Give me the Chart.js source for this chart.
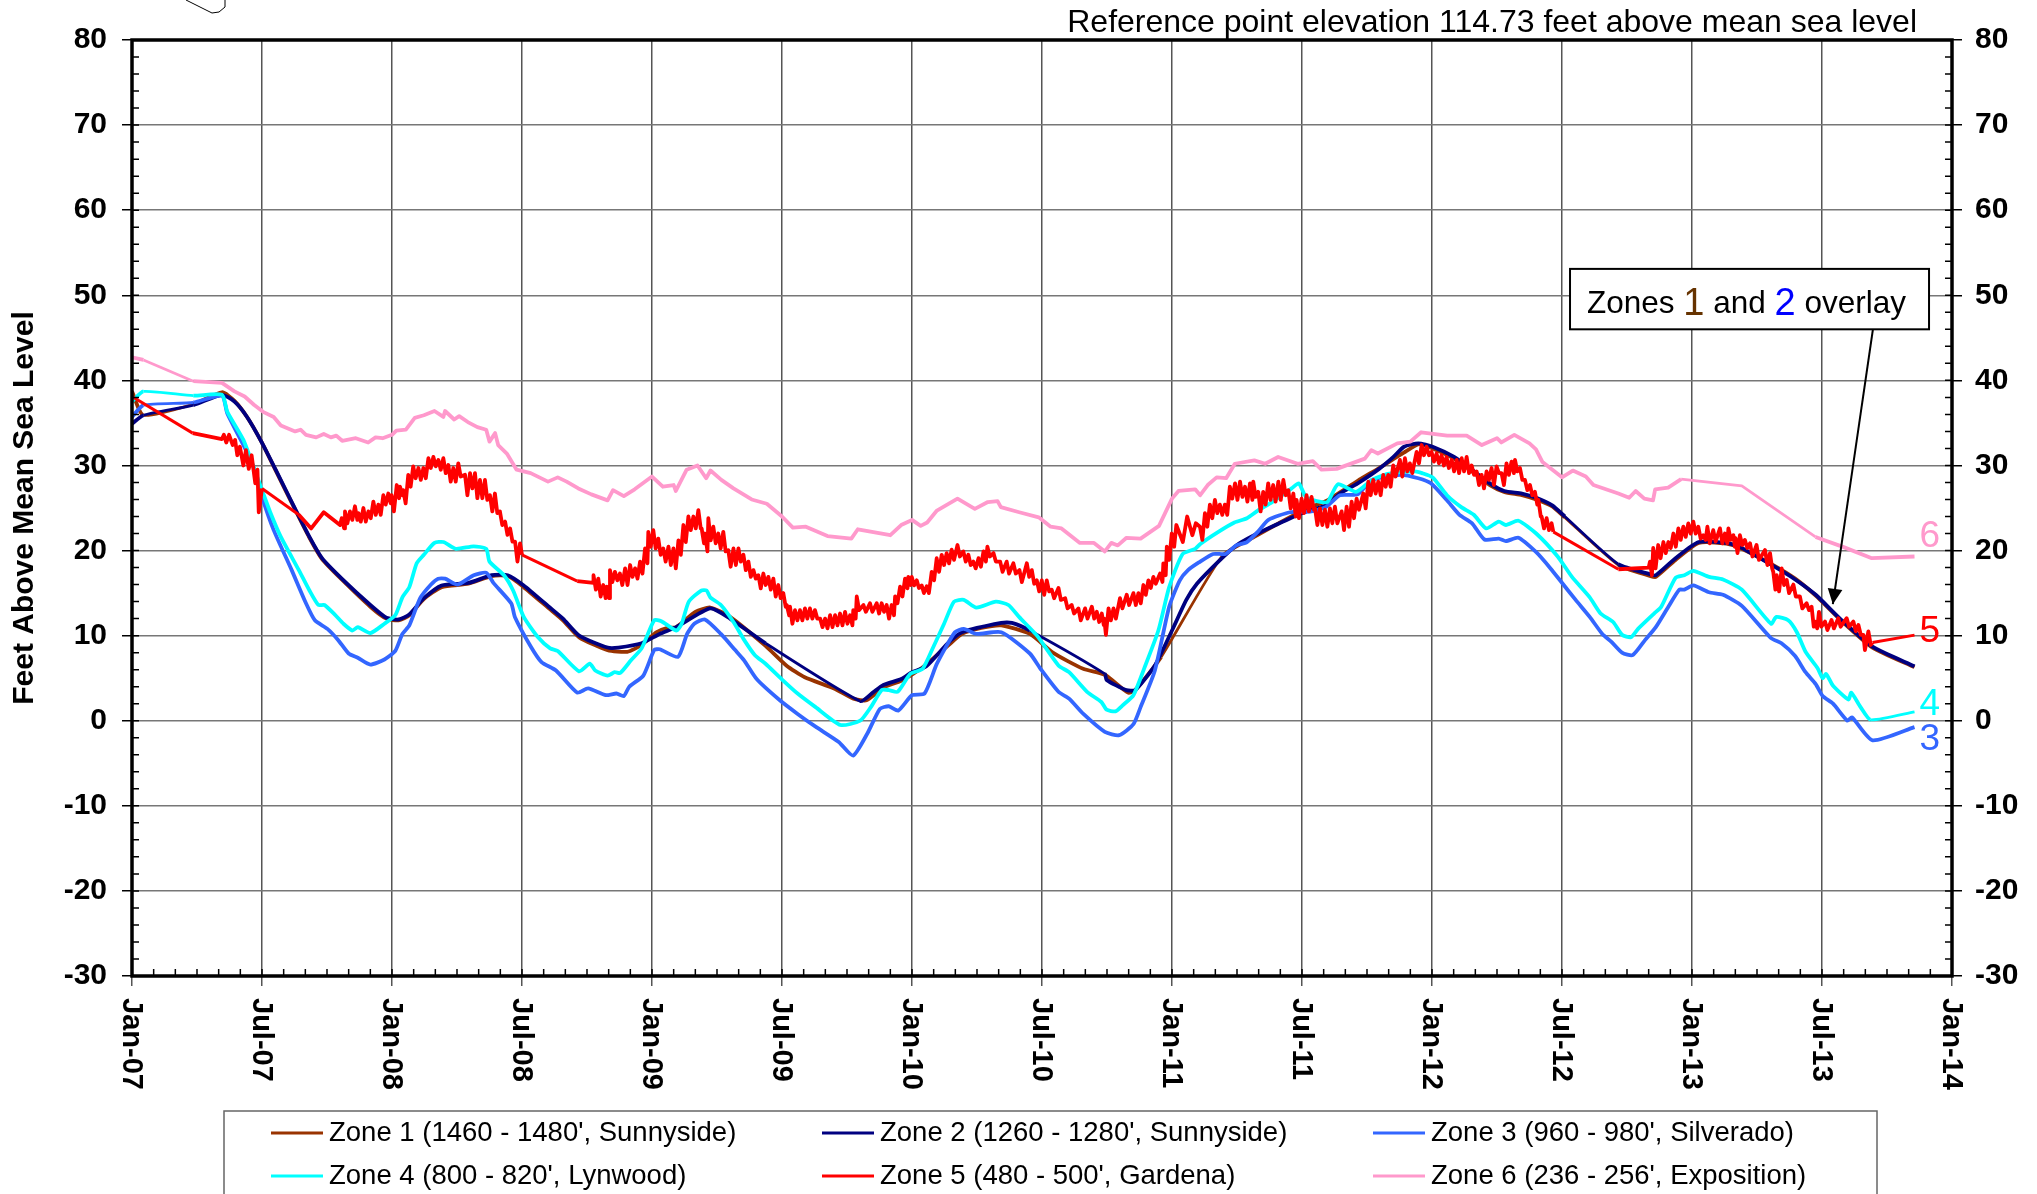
<!DOCTYPE html>
<html>
<head>
<meta charset="utf-8">
<title>Groundwater levels</title>
<script src="https://cdn.jsdelivr.net/npm/chart.js@4"></script>
<style>
  html, body { margin: 0; padding: 0; background: #fff; overflow: hidden; }
  canvas { display: block; }
</style>
</head>
<body>
<canvas id="chart" width="2037" height="1194"></canvas>
<script>
// x = months since Jan-07, y = feet above mean sea level
const xTickLabels = ['Jan-07', 'Jul-07', 'Jan-08', 'Jul-08', 'Jan-09', 'Jul-09', 'Jan-10', 'Jul-10',
  'Jan-11', 'Jul-11', 'Jan-12', 'Jul-12', 'Jan-13', 'Jul-13', 'Jan-14'];

const zoneNames = ["Zone 1 (1460 - 1480', Sunnyside)", "Zone 2 (1260 - 1280', Sunnyside)", "Zone 3 (960 - 980', Silverado)",
  "Zone 4 (800 - 820', Lynwood)", "Zone 5 (480 - 500', Gardena)", "Zone 6 (236 - 256', Exposition)"];
const zoneColors = ['#993300', '#000080', '#3366FF', '#00FFFF', '#FF0000', '#FF99CC'];

const zone1 = [[0,38.7],[.53,35.9],[2.83,37.2],[4.15,38.6],[4.73,37.6],[5.31,35.7],[5.97,32.8],[6.71,29],[7.53,24.8],[8.19,21.5],
  [8.77,19],[9.68,16.6],[11,13.4],[11.74,12],[12.31,11.8],[12.8,12.4],[13.47,14.3],[14.29,15.7],[15.53,16.1],[16.6,17],
  [17.34,17],[18.08,15.7],[19.24,13.2],[19.89,11.8],[20.64,9.8],[21.95,8.3],[22.86,8.1],[23.52,8.9],[24.2,10.4],[24.68,10.9],
  [25.12,11],[26,12.8],[26.69,13.3],[27.6,12.2],[29.24,8.8],[30.2,6.5],[31.05,5.1],[32.4,3.8],[33.3,2.6],[33.9,2.4],
  [34.68,3.9],[35.5,4.7],[36.4,6.1],[37.65,8.8],[38.31,10.2],[39.2,10.9],[40.12,11.2],[41.44,10.2],[42.5,8],[43.9,6.1],
  [44.9,5.4],[45.97,3.3],[46.3,3.6],[47.5,7.5],[50.3,19.3],[51.79,21.6],[52.78,23],[54.1,24.8],[55.09,25.8],[56.57,28.2],
  [57.56,29.7],[58.7,31.5],[59.4,32.5],[60.03,32],[61.02,30.8],[61.85,29.3],[62.67,27.7],[63.33,26.9],[64.15,26.5],[64.81,26],
  [65.55,25.2],[66.13,23.9],[68.6,18.3],[70.09,17],[70.33,16.9],[71.24,18.9],[72.31,20.9],[73.59,20.8],[74.22,20.3],[75.81,18.2],
  [76.76,16.7],[77.71,14.7],[78.83,11.9],[80.33,8.6],[82.27,6.3]];

const zone2 = [[0,34.9],[.53,35.9],[2.83,37.1],[4.15,38.3],[4.73,37.5],[5.31,35.7],[5.97,32.8],[6.71,29.1],[7.53,24.9],[8.19,21.6],
  [8.77,19.1],[9.68,16.7],[11,13.6],[11.74,12.1],[12.31,11.9],[12.8,12.5],[13.47,14.4],[14.29,15.9],[15.53,16.2],[16.6,17.1],
  [17.34,17.1],[18.08,15.9],[19.24,13.4],[19.89,12],[20.64,10],[21.95,8.6],[22.45,8.6],[23.52,9.1],[24.35,10.2],[25.12,11],
  [26.69,13.2],[27.6,12],[29.24,9.1],[33.61,2.3],[34.19,3.3],[34.68,4.2],[35.5,4.9],[36,5.7],[36.66,6.4],[37.65,9.1],
  [38.31,10.4],[40.12,11.5],[40.61,11.5],[41.44,10.6],[44.9,5.5],[44.98,4.8],[45.89,3.6],[46.3,3.6],[47.21,6.5],[48,10.6],
  [48.66,14.2],[49.15,16.1],[50.14,18.7],[50.97,20.6],[51.79,21.8],[52.78,23],[54.1,24.5],[55.09,25.3],[55.75,26.7],[56.57,27.9],
  [57.56,29.6],[58.22,31],[58.71,32.2],[59.37,32.6],[60.03,32.2],[61.02,31],[61.85,29.5],[62.67,27.9],[63.33,27],[64.15,26.7],
  [64.81,26.2],[65.55,25.3],[66.13,24],[68.6,18.4],[70.09,17.2],[70.33,17.1],[71.24,19.1],[72.31,21],[73.59,20.9],[74.22,20.4],
  [75.81,18.1],[76.76,16.6],[77.71,14.8],[78.83,12],[80.33,8.7],[82.27,6.4]];

const zone3 = [[0,35.7],[.53,37.1],[2.83,37.4],[4.15,38.2],[4.4,36.1],[5.14,32.4],[5.64,29.6],[6,26.3],[6.54,22.4],[7.37,17.7],
  [8.03,13.8],[8.44,11.8],[9.02,10.8],[9.51,9.5],[10,7.9],[10.42,7.4],[11,6.6],[11.65,7.2],[12.15,8.2],[12.48,10.2],
  [12.8,11.2],[13.3,14.4],[13.8,16],[14.13,16.7],[14.45,16.7],[15.03,16],[15.77,17.1],[16.35,17.4],[16.68,16.2],[17.5,13.8],
  [17.67,12.2],[18.41,8.7],[18.9,6.9],[19.57,5.9],[20.55,3.3],[21.05,3.8],[21.87,3],[22.36,3.2],[22.7,2.9],[22.95,4],
  [23.6,5.3],[24.1,8.3],[24.35,8.4],[25.2,7.5],[25.62,10.2],[25.95,11.4],[26.44,11.9],[27.18,10.2],[27.84,8.3],[28.25,7.1],
  [28.83,4.9],[29.9,2.4],[30.72,.8],[31.55,-.7],[32.62,-2.5],[33.28,-4.1],[33.94,-1.5],[34.52,1.4],[34.93,1.7],[35.37,1.2],
  [36,3],[36.58,3.2],[37.15,6.7],[37.98,10.4],[38.39,10.8],[38.97,10.2],[40.12,10.4],[41.44,7.9],[41.93,6.1],[42.76,3.4],
  [43.25,2.6],[43.91,.8],[44.9,-1.3],[45.56,-1.7],[46.22,-.4],[46.55,1.6],[47.21,5.9],[47.87,13.4],[48.36,16.5],[48.74,17.7],
  [49.24,18.6],[49.9,19.6],[50.47,19.6],[50.97,20.6],[51.46,21],[51.96,22.2],[52.45,23.6],[53.44,24.5],[54.43,24.6],[55.09,25.1],
  [55.75,26.5],[56.57,26.6],[57.23,28.3],[58.55,28.9],[59.37,28.5],[59.95,27.9],[60.69,25.9],[61.27,24.2],[61.85,23.2],[62.42,21.3],
  [63.08,21.4],[63.41,21.1],[63.99,21.5],[64.81,19.8],[65.47,17.9],[65.97,16.3],[66.63,14.2],[67.28,12.2],[67.86,10.2],[68.27,9.3],
  [68.77,8],[69.26,7.7],[69.84,9.5],[70.33,11],[70.91,13.4],[71.41,15.4],[71.65,15.4],[72.06,15.9],[72.79,15.1],[73.43,14.8],
  [74.3,13.5],[75.65,9.7],[76.13,9.1],[76.76,7.6],[77.24,5.7],[77.71,4.3],[78.03,2.9],[78.51,2],[79.17,0],[79.38,.4],
  [80.33,-2.3],[82.27,-.75]];

const zone4 = [[0,37.5],[.53,38.7],[2.83,38.2],[4.15,38.3],[4.4,36.3],[5.14,33],[5.64,29.6],[6,27.1],[6.38,24.5],[6.87,21.6],
  [7.7,17.7],[8.19,15.3],[8.6,13.6],[8.88,13.6],[9.35,12.5],[9.76,11.4],[10.17,10.6],[10.42,11],[11,10.3],[11.65,11.4],
  [12.15,12.4],[12.48,14.5],[12.8,15.7],[13.14,18.5],[13.47,19.5],[13.96,20.9],[14.37,21],[14.95,20.2],[15.77,20.5],[16.35,20.2],
  [16.5,18.7],[17.17,17.1],[17.59,15.3],[18.08,12.2],[18.74,9.8],[19.3,8.5],[19.65,8.2],[20.64,5.8],[21.13,6.7],[21.38,5.9],
  [21.95,5.3],[22.28,5.7],[22.53,5.6],[23.03,7.1],[23.52,8.5],[24.1,11.8],[24.43,11.7],[25.12,10.6],[25.37,11.4],[25.7,14],
  [26.27,15.3],[26.52,15.3],[26.69,14.5],[27.18,13.6],[27.76,11.6],[28.25,9.5],[28.75,7.7],[29.24,6.7],[29.98,4.9],[30.72,3.2],
  [31.55,1.6],[32.7,-.5],[33.61,0],[34.1,1.6],[34.6,3.6],[34.93,3.6],[35.34,3.4],[35.92,5.5],[36.49,6.1],[36.99,8.7],
  [37.48,11.4],[37.94,14],[38.39,14.2],[38.97,13.3],[39.87,14],[40.45,13.6],[40.94,12.2],[41.77,10],[42.76,6.5],[43.25,5.7],
  [44.08,3.4],[44.74,2.2],[44.98,1.3],[45.39,1.1],[45.72,1.8],[46.22,3],[46.71,6.1],[47.37,10.6],[47.87,15.7],[48.49,19.6],
  [49.07,20.2],[49.32,20.8],[50.14,22.2],[50.88,23.3],[51.46,23.8],[51.96,24.7],[52.62,25.7],[53.52,27.3],[53.85,27.9],[54.18,26.3],
  [54.68,25.8],[55.17,25.7],[55.66,27.8],[56.49,26.9],[57.23,28.3],[57.97,29],[59.21,29.3],[59.54,29.1],[60.03,28.6],[60.69,26.5],
  [61.35,25.1],[61.93,24.2],[62.5,22.6],[63.08,23.4],[63.41,23],[63.99,23.5],[64.81,22],[65.8,19.3],[66.46,16.9],[67.28,14.5],
  [67.78,12.6],[68.36,11.6],[68.77,10.1],[69.18,9.8],[69.51,10.8],[70.25,12.6],[70.58,13.4],[71.24,16.8],[71.65,17.1],[72.06,17.6],
  [72.79,16.9],[73.43,16.6],[74.3,15.4],[75.65,11.4],[75.89,12.2],[76.44,11.8],[76.84,10.4],[77.24,8.1],[77.79,6.2],[78.03,5],
  [78.19,5.5],[78.51,4.1],[79.22,2.5],[79.35,3.3],[79.78,1.6],[80.25,.1],[82.27,1.05]];

// zone 5 is very noisy: the dense stretches go top edge, bottom edge of the band
const zone5 = [[0,38.1],[2.8,33.8],[4.15,33.1],[4.24,33.6],[4.35,32.7],[4.48,33.6],[4.65,32.4],[4.76,33],[4.86,31.2],[4.98,32.2],
  [5.14,30],[5.26,31.8],[5.39,29.6],[5.52,31.2],[5.69,27.9],[5.79,29.5],[5.85,24.5],[6,27.3],[7.7,24.2],[8.27,22.6],
  [8.85,24.5],[9.6,23],
  [9.68,23.8],[9.79,22.6],[9.83,24.6],[9.94,23.2],[10.06,24.6],[10.17,23.6],[10.29,25.2],[10.4,23.6],[10.45,24.4],[10.56,23.4],
  [10.68,25],[10.79,23.4],[10.91,24.6],[11.02,23.8],[11.14,25.75],[11.25,24.2],[11.37,25.4],[11.48,24.2],[11.6,26.5],[11.71,25.4],
  [11.83,26.7],[11.94,25.55],[11.98,26.5],[12.09,24.6],[12.22,27.7],[12.33,26.15],[12.37,27.5],[12.48,26.5],[12.52,27.1],[12.63,25.55],
  [12.75,28.9],[12.86,27.5],[12.98,29.9],[13.09,28.5],[13.22,29.7],[13.33,28.3],[13.45,29.7],[13.56,28.5],[13.68,30.85],[13.79,29.7],
  [13.91,31],[14.02,29.9],[14.14,30.65],[14.25,29.5],[14.37,30.85],[14.48,29.1],[14.6,30.05],[14.71,28.1],[14.83,29.7],[14.94,28.1],
  [15.06,30.25],[15.17,28.7],[15.37,28.9],[15.48,26.5],[15.6,29.1],[15.71,27.3],[15.83,29.1],[15.94,26.15],[16.06,28.3],[16.17,26.15],
  [16.29,28.3],[16.4,25.95],[16.52,26.5],[16.63,24.6],[16.75,26.7],[16.86,24.4],[16.98,24.6],[17.09,23],[17.22,23.4],[17.33,21.85],
  [17.45,22.6],[17.56,21.05],[17.68,21.05],[17.79,18.7],[17.91,20.85],[18,19.5],
  [20.55,16.4],[21.3,16.2],
  [21.3,17.1],[21.41,15.4],[21.52,16.7],[21.63,14.6],[21.75,15.95],[21.86,14.4],[21.91,15.75],[22.02,14.4],[22.06,17.7],[22.17,16.3],
  [22.29,17.5],[22.4,16.5],[22.52,17.3],[22.63,15.95],[22.76,17.9],[22.87,15.95],[22.99,18.3],[23.1,16.9],[23.22,17.9],[23.33,16.7],
  [23.45,18.7],[23.56,17.3],[23.68,20.25],[23.79,18.5],[23.83,22.2],[23.94,20.45],[24.06,22.4],[24.17,20.25],[24.29,21.4],[24.4,19.5],
  [24.52,20.25],[24.63,18.7],[24.76,20.45],[24.87,18.3],[24.99,20.25],[25.1,17.9],[25.22,21.2],[25.33,19.5],[25.45,23],[25.56,21],
  [25.68,24],[25.79,22.4],[25.91,24],[26.02,22.6],[26.14,24.75],[26.25,22.6],[26.29,22.6],[26.4,20.85],[26.45,22],[26.56,19.9],
  [26.6,23.8],[26.71,21.2],[26.83,22.8],[26.94,20.85],[27.06,22],[27.17,20.25],[27.29,22.2],[27.4,19.9],[27.52,20.05],[27.63,18.1],
  [27.76,20.25],[27.87,18.3],[27.99,20.25],[28.1,18.7],[28.22,19.5],[28.33,17.7],[28.45,18.7],[28.56,16.9],[28.68,17.7],[28.79,16.7],
  [28.91,17.1],[29.02,15.55],[29.14,17.3],[29.25,15.95],[29.37,16.9],[29.48,15.4],[29.6,16.7],[29.71,14.6],[29.83,15.95],[29.94,14.4],
  [30.06,15],[30.17,13.4],[30.22,13.6],[30.33,12.4],[30.37,13.4],[30.48,11.4],[30.6,13],[30.71,11.8],[30.83,13],[30.94,11.8],
  [31.06,13.2],[31.17,12],[31.29,13.2],[31.4,12],[31.52,13],[31.63,12],[31.76,12],[31.87,11],[31.99,12],[32.1,10.85],
  [32.22,12.4],[32.33,11],[32.45,12.4],[32.56,11.2],[32.68,12.6],[32.79,11.2],[32.91,12.8],[33.02,11.4],[33.14,12.4],[33.25,11.2],
  [33.29,13],[33.4,12],[33.45,14.6],[33.56,13],[33.76,13.6],[33.87,12.8],[34.06,13.8],[34.17,12.8],[34.37,13.8],[34.48,12.6],
  [34.6,13.8],[34.71,12.8],[34.83,13.6],[34.94,12],[35.06,13.6],[35.17,12.4],[35.22,14.6],[35.33,13.8],[35.45,15.75],[35.56,14.6],
  [35.68,16.7],[35.79,15.55],[35.83,16.9],[35.94,15.95],[35.99,16.9],[36.1,15.9],
  [36.22,16.5],[36.32,15.6],[36.45,15.9],[36.55,15],[36.68,15.8],[36.78,15],[36.91,17.5],[37.02,16.5],[37.14,19.1],[37.25,17.5],
  [37.37,19.5],[37.48,18.3],[37.6,19.7],[37.71,18.5],[37.83,20.1],[37.94,18.9],[38.1,20.65],[38.21,19.3],[38.37,19.9],[38.48,18.7],
  [38.6,19.5],[38.71,18.3],[38.83,18.7],[38.94,17.9],[39.07,19.1],[39.18,18.1],[39.3,19.9],[39.41,18.7],[39.48,20.45],[39.59,19.3],
  [39.76,19.7],[39.87,18.7],[40.07,18.7],[40.18,17.5],[40.37,18.7],[40.48,17.3],[40.68,18.5],[40.79,17.3],[40.96,17.7],[41.07,16.3],
  [41.3,18.5],[41.41,16.9],[41.53,17.7],[41.64,16.1],[41.76,16.5],[41.87,15.2],[41.99,16.5],[42.1,14.8],[42.22,16.5],[42.33,15.2],
  [42.45,15.4],[42.56,14.4],[42.76,15.6],[42.87,14.2],[43.07,14.4],[43.18,13.2],[43.37,13.6],[43.48,12.6],[43.68,13.2],[43.79,11.8],
  [43.99,13.2],[44.1,12],[44.3,13.4],[44.41,12],[44.53,12.8],[44.64,11.6],[44.76,12.6],[44.85,11.25],[44.87,12],[44.95,10.1],
  [45.07,13.2],[45.18,11.8],[45.3,13.2],[45.41,12],[45.6,14.4],[45.71,13.2],[45.91,14.8],[46.02,13.6],[46.22,15],[46.33,13.6],
  [46.45,15],[46.56,13.8],[46.68,15.95],[46.79,14.8],[46.91,16.5],[47.02,15.6],[47.14,16.9],[47.25,16.1],[47.45,17.3],[47.56,16.3],
  [47.6,18.5],[47.71,17.1],[47.76,20.45],[47.87,18.9],[47.99,22],[48.1,20.45],
  [48.2,23],[48.5,21],[48.7,24],[48.94,21.8],[49.1,23.2],
  [49.29,22.8],[49.4,21.25],[49.52,24.4],[49.63,22.8],[49.75,25.4],[49.86,23.8],[49.98,25.95],[50.09,24.4],[50.21,25.4],[50.32,24.2],
  [50.44,25.4],[50.55,24.2],[50.67,27.5],[50.78,26.1],[50.91,27.9],[51.02,25.95],[51.14,28.1],[51.25,26.3],[51.37,27.5],[51.48,25.75],
  [51.6,27.9],[51.71,25.95],[51.75,28.1],[51.86,26.3],[51.98,26.9],[52.09,24.6],[52.21,26.9],[52.32,25.4],[52.44,27.9],[52.55,25.95],
  [52.67,27.7],[52.78,25.75],[52.91,28.1],[53.02,25.95],[53.14,28.3],[53.25,26.5],[53.37,27.1],[53.48,24.95],[53.6,26.7],[53.71,24],
  [53.75,25.95],[53.86,23.8],[53.98,26.1],[54.09,24.4],[54.21,26.5],[54.32,24.6],[54.44,26.3],[54.55,24.8],[54.6,24.95],[54.71,23],
  [54.83,24.95],[54.94,23],[55.06,24.8],[55.17,22.8],[55.29,24.95],[55.4,23.2],[55.52,25.15],[55.63,23.2],[55.83,24.6],[55.94,22.4],
  [56.06,25.15],[56.17,22.8],[56.29,25.75],[56.4,23.8],[56.52,26.1],[56.63,24.8],[56.83,26.7],[56.94,24.95],[57.06,28.1],[57.17,26.5],
  [57.29,28.3],[57.4,26.7],[57.52,28.1],[57.63,26.5],[57.75,28.9],[57.86,27.5],[57.98,28.9],[58.09,27.5],[58.21,30],[58.32,28.7],
  [58.52,30.65],[58.63,28.7],[58.75,30.85],[58.86,29.3],[58.98,30.25],[59.09,29.1],[59.29,31.6],[59.4,30.25],[59.52,32.4],[59.63,31.2],
  [59.75,32.2],[59.86,31.2],[59.98,31.6],[60.09,30.45],[60.21,31.4],[60.32,30.25],[60.44,31.2],[60.55,30],[60.67,31],[60.78,29.7],
  [60.91,30.65],[61.02,29.3],[61.14,30.65],[61.25,29.1],[61.37,30.85],[61.48,29.3],[61.6,31],[61.71,29.1],[61.83,30],[61.94,28.9],
  [62.06,29.3],[62.17,27.7],[62.29,28.9],[62.4,27.3],[62.52,29.3],[62.63,28.3],[62.75,29.7],[62.86,27.7],[62.98,29.9],[63.09,29.1],
  [63.21,29.1],[63.32,27.7],[63.44,30.25],[63.55,28.9],[63.67,30.45],[63.78,29.1],[63.83,30.65],[63.94,29.3],[64.06,29.7],[64.17,28.3],
  [64.29,28.3],[64.4,27.1],[64.52,27.7],[64.63,26.5],[64.75,26.9],[64.86,25.4],[64.91,25.95],[65.02,24],[65.06,24],[65.17,22.6],
  [65.29,23.8],[65.4,22.4],[65.52,23.2],[65.6,22.2],
  [68.6,17.8],[70,18],
  [70.06,18.7],[70.15,17.1],[70.21,20.3],[70.32,17.9],[70.44,20.65],[70.55,19.1],[70.68,21],[70.79,19.7],[70.91,21],[71.02,20.3],
  [71.14,22],[71.25,20.45],[71.37,22.6],[71.48,21.25],[71.6,22.8],[71.71,21.6],[71.83,23.2],[71.94,22],[72.06,23.4],[72.17,22],
  [72.29,22.8],[72.4,21.4],[72.52,21.8],[72.63,21.25],[72.71,22.8],[72.82,20.85],[72.98,22.4],[73.09,21.05],[73.29,22.6],[73.4,20.85],
  [73.52,22],[73.63,20.85],[73.68,22.6],[73.79,21.25],[73.91,21.8],[73.98,20.45],[74.01,21.45],[74.1,19.7],[74.21,21.8],[74.32,20.65],
  [74.44,21.25],[74.55,20.3],[74.68,20.85],[74.79,19.3],[74.98,20.65],[75.09,18.9],[75.37,20.05],[75.48,18.3],[75.6,19.7],[75.7,17.9],
  [75.75,17.5],[75.85,15.4],[75.91,17.1],[76.02,15.2],[76.14,17.9],[76.25,15.95],[76.37,16.55],[76.48,15],[76.68,16],[76.79,14.6],
  [76.98,14.6],[77.09,13.2],[77.29,13.8],[77.4,13],[77.52,13.4],[77.62,11.05],[77.68,11.65],[77.78,10.85],[77.86,12.8],[77.97,11.05],
  [78.14,11.65],[78.25,10.65],[78.44,11.85],[78.55,10.85],[78.75,12.05],[78.86,11.05],[79.14,12.05],[79.25,11.05],[79.45,11.65],[79.56,10.5],
  [79.68,11.25],[79.79,10.1],[79.91,10.1],[79.98,8.3],[80.14,10.5],[80.25,8.9],[80.33,9.2],[82.27,10.06]];

const zone6 = [[0,42.7],[.53,42.4],[2.83,39.9],[4.15,39.7],[4.73,38.7],[5.2,38.1],[5.64,37.1],[6.05,36.3],[6.54,35.7],[6.87,34.7],
  [7.53,34],[7.78,34.2],[8.03,33.6],[8.5,33.3],[8.85,33.7],[9.18,33.3],[9.43,33.5],[9.7,32.9],[10.33,33.2],[10.9,32.7],
  [11.24,33.3],[11.57,33.2],[12,33.6],[12.2,34.1],[12.64,34.2],[13.05,35.6],[13.47,35.9],[13.96,36.4],[14.37,35.7],[14.45,36.4],
  [14.87,35.4],[15.1,35.8],[15.5,35.1],[15.94,34.5],[16.35,34.2],[16.5,32.8],[16.76,33.8],[16.9,32.4],[17.3,31.4],[17.75,29.5],
  [18.4,29.1],[19.2,28.1],[19.65,28.6],[20.06,28.1],[20.6,27.3],[21.2,26.6],[21.95,25.9],[22.2,27.1],[22.7,26.4],[23.2,27.2],
  [24,28.7],[24.5,27.5],[25,27.7],[25.1,27],[25.6,29.5],[26.1,30],[26.5,28.5],[26.7,29.4],[27.2,28.3],[27.76,27.3],
  [28.6,26],[29.3,25.5],[30,24],[30.5,22.7],[31.1,22.8],[32.1,21.7],[33.2,21.4],[33.5,22.5],[35,21.8],[35.5,23],
  [36,23.6],[36.4,22.9],[36.7,23.3],[37.15,24.7],[38.1,26.1],[38.9,24.9],[39.5,25.7],[39.95,25.8],[40.1,25.1],[40.95,24.5],
  [41.85,23.9],[42.4,22.8],[42.9,22.6],[43.75,20.9],[44.4,20.9],[44.9,19.9],[45.2,20.9],[45.5,20.6],[45.9,21.5],[46.55,21.4],
  [47.4,22.9],[48,26.1],[48.3,27],[49.07,27.2],[49.3,26.5],[49.65,27.7],[50.06,28.6],[50.5,28.5],[50.9,30.2],[51.8,30.6],
  [52.3,30.2],[52.9,31],[53.8,30.2],[54.5,30.5],[54.9,29.5],[55.6,29.6],[56.9,30.8],[57.2,31.8],[57.5,31.4],[58.4,32.6],
  [59,32.8],[59.5,33.9],[60.7,33.5],[61.6,33.5],[62.3,32.4],[63,33.2],[63.2,32.7],[63.8,33.6],[64.5,32.6],[64.8,31.9],
  [65.1,30.4],[66,28.6],[66.5,29.4],[67.1,28.7],[67.45,27.7],[68.6,26.7],[69.1,26.2],[69.4,27],[69.8,26.1],[70.2,25.9],
  [70.3,27.2],[70.9,27.4],[71.5,28.4],[74.3,27.6],[77.7,21.6],[79,20.4],[80.3,19.1],[82.27,19.3]];

const zoneSeries = [zone1, zone2, zone3, zone4, zone5, zone6];

// frame, minor ticks, x labels, title, legend box and the notes on the plot
const extras = {
  id: 'extras',
  afterDatasetsDraw(chart) {
    const { ctx, chartArea: a, scales: { x, y } } = chart;
    ctx.save();
    ctx.strokeStyle = '#000';
    ctx.lineWidth = 1.5;
    ctx.beginPath();
    for (let m = 1; m < 84; m++) {
      const px = x.getPixelForValue(m);
      ctx.moveTo(px, a.bottom);
      ctx.lineTo(px, a.bottom - 7);
    }
    for (let v = -30; v <= 80; v += 2) {
      const py = y.getPixelForValue(v);
      ctx.moveTo(a.left, py);
      ctx.lineTo(a.left + 7, py);
      ctx.moveTo(a.right, py);
      ctx.lineTo(a.right - 7, py);
    }
    ctx.stroke();

    ctx.lineWidth = 3.5;
    ctx.strokeRect(a.left, a.top, a.right - a.left, a.bottom - a.top);

    // bit of the site map that sticks in from the top of the page
    ctx.lineWidth = 1;
    ctx.beginPath();
    ctx.moveTo(186, 0);
    ctx.lineTo(212, 13);
    ctx.lineTo(219, 12);
    ctx.lineTo(225, 7);
    ctx.lineTo(225, 0);
    ctx.stroke();

    ctx.textBaseline = 'middle';
    ctx.textAlign = 'left';

    // x labels read downwards, Chart.js only turns them the other way
    ctx.fillStyle = '#000';
    ctx.font = 'bold 29px "Liberation Sans"';
    xTickLabels.forEach((label, i) => {
      ctx.save();
      ctx.translate(x.getPixelForValue(i * 6) - 1, 998);
      ctx.rotate(Math.PI / 2);
      ctx.fillText(label, 0, 0);
      ctx.restore();
    });

    ctx.font = '32px "Liberation Sans"';
    ctx.textAlign = 'right';
    ctx.fillText('Reference point elevation 114.73 feet above mean sea level', 1917, 23);
    ctx.textAlign = 'left';

    // zone numbers at the line ends
    ctx.font = '37px "Liberation Sans"';
    [[6, 21.6, 5], [5, 10.5, 4], [4, 1.9, 3], [3, -2.2, 2]].forEach(([n, v, c]) => {
      ctx.fillStyle = zoneColors[c];
      ctx.fillText(String(n), x.getPixelForValue(82.5), y.getPixelForValue(v));
    });

    // overlay note
    const bx = x.getPixelForValue(66.37), bw = x.getPixelForValue(82.94) - bx;
    const by = y.getPixelForValue(53.1), bh = y.getPixelForValue(46) - by;
    ctx.fillStyle = '#fff';
    ctx.fillRect(bx, by, bw, bh);
    ctx.strokeStyle = '#000';
    ctx.lineWidth = 2;
    ctx.strokeRect(bx, by, bw, bh);
    let tx = bx + 17;
    const ty = by + bh / 2 + 5;
    [['Zones ', '#000', 31.5], ['1', '#663300', 38], [' and ', '#000', 31.5], ['2', '#0000FF', 38], [' overlay', '#000', 31.5]].forEach(([t, c, s]) => {
      ctx.font = s + 'px "Liberation Sans"';
      ctx.fillStyle = c;
      ctx.fillText(t, tx, ty);
      tx += ctx.measureText(t).width;
    });

    const x0 = x.getPixelForValue(80.35), y0 = y.getPixelForValue(46);
    const x1 = x.getPixelForValue(78.5), y1 = y.getPixelForValue(13.7);
    const ang = Math.atan2(y1 - y0, x1 - x0);
    ctx.lineWidth = 2;
    ctx.beginPath();
    ctx.moveTo(x0, y0);
    ctx.lineTo(x1, y1);
    ctx.stroke();
    ctx.fillStyle = '#000';
    ctx.beginPath();
    ctx.moveTo(x1, y1);
    ctx.lineTo(x1 - 17 * Math.cos(ang - 0.45), y1 - 17 * Math.sin(ang - 0.45));
    ctx.lineTo(x1 - 17 * Math.cos(ang + 0.45), y1 - 17 * Math.sin(ang + 0.45));
    ctx.closePath();
    ctx.fill();

    // legend, three columns, runs off the bottom of the page like the original
    ctx.strokeStyle = '#666';
    ctx.lineWidth = 1.5;
    ctx.strokeRect(224, 1111, 1653, 120);
    const colX = [271, 822, 1373], rowY = [1133, 1176];
    ctx.font = '27.5px "Liberation Sans"';
    chart.data.datasets.forEach((ds, i) => {
      const lx = colX[i % 3], ly = rowY[Math.floor(i / 3)];
      ctx.strokeStyle = ds.borderColor;
      ctx.lineWidth = 3;
      ctx.beginPath();
      ctx.moveTo(lx, ly);
      ctx.lineTo(lx + 52, ly);
      ctx.stroke();
      ctx.fillStyle = '#000';
      ctx.fillText(ds.label, lx + 58, ly);
    });
    ctx.restore();
  }
};

// the daily stretches print thicker than the long joins between them
const lineWidth = i => ctx => {
  const gap = ctx.p1.parsed.x - ctx.p0.parsed.x;
  if (i === 4) return gap > 1.5 ? 3 : 3.8;
  return gap > 2 ? 2.8 : 3.8;
};

new Chart(document.getElementById('chart'), {
  type: 'line',
  data: {
    datasets: zoneSeries.map((pts, i) => ({
      label: zoneNames[i],
      data: pts.map(p => ({ x: p[0], y: p[1] })),
      borderColor: zoneColors[i],
      backgroundColor: zoneColors[i],
      borderWidth: 3.5,
      pointRadius: 0,
      tension: i < 4 ? 0.2 : 0,
      borderJoinStyle: 'round',
      segment: { borderWidth: lineWidth(i) },
      order: 6 - i,
    }))
  },
  options: {
    responsive: false,
    animation: false,
    layout: { padding: { top: 40 } },
    plugins: { legend: { display: false }, tooltip: { enabled: false } },
    scales: {
      x: {
        type: 'linear',
        min: 0,
        max: 84,
        afterFit: s => { s.height = 218; },
        ticks: { stepSize: 6, autoSkip: false, display: false },
        grid: { color: '#555', lineWidth: 1.5, tickLength: 10, tickColor: '#555' },
        border: { display: false },
      },
      y: {
        min: -30,
        max: 80,
        afterFit: s => { s.width = 132; },
        ticks: {
          stepSize: 10,
          padding: 15,
          color: '#000',
          font: { family: '"Liberation Sans"', weight: 'bold', size: 30 },
        },
        title: {
          display: true,
          text: 'Feet Above Mean Sea Level',
          color: '#000',
          padding: { top: 7, bottom: 0 },
          font: { family: '"Liberation Sans"', weight: 'bold', size: 30 },
        },
        grid: { color: '#777', lineWidth: 1.5, tickLength: 10, tickColor: '#000' },
        border: { display: false },
      },
      y2: {
        position: 'right',
        min: -30,
        max: 80,
        afterFit: s => { s.width = 85; },
        ticks: {
          stepSize: 10,
          padding: 13,
          color: '#000',
          font: { family: '"Liberation Sans"', weight: 'bold', size: 30 },
        },
        grid: { drawOnChartArea: false, lineWidth: 1.5, tickLength: 10, tickColor: '#000' },
        border: { display: false },
      },
    },
  },
  plugins: [extras],
});
</script>
</body>
</html>
